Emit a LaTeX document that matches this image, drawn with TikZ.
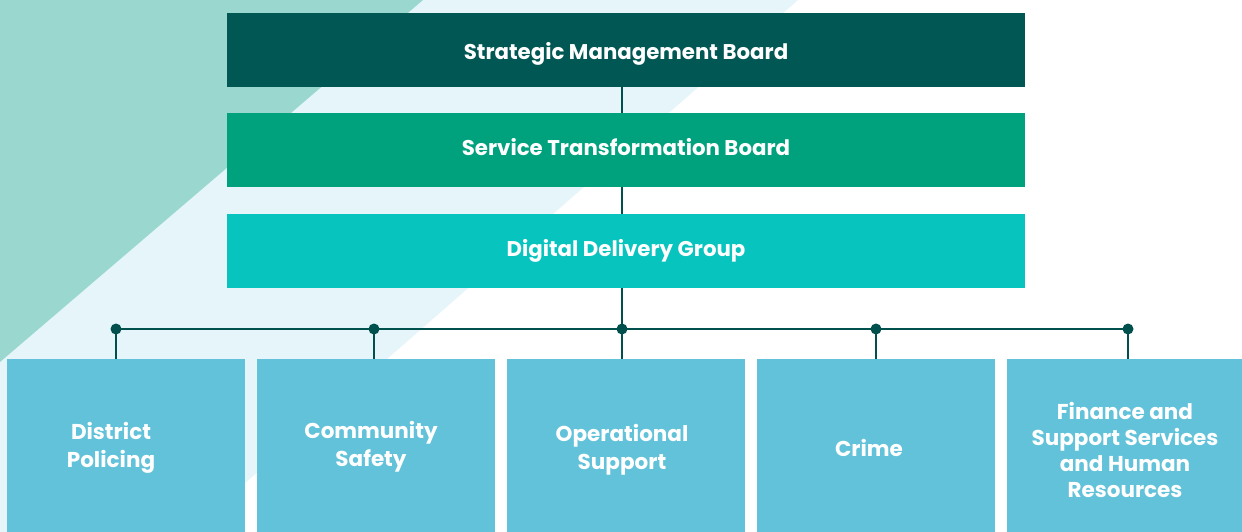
\documentclass[tikz,border=0pt]{standalone}
\usepackage{fontspec}
\setmainfont{Poppins}
\definecolor{cgreentri}{HTML}{9AD8CF}
\definecolor{clightblue}{HTML}{E6F5FA}
\definecolor{csmb}{HTML}{005753}
\definecolor{cstb}{HTML}{00A27E}
\definecolor{cddg}{HTML}{08C4BF}
\definecolor{cunit}{HTML}{61C2D9}
\definecolor{cline}{HTML}{00504D}
\tikzset{
  topbox/.style={rectangle, inner sep=0pt, minimum width=798pt, minimum height=74pt,
    text=white, text depth=0pt, font=\fontsize{21.3}{25}\selectfont\bfseries},
  unitbox/.style={rectangle, inner sep=0pt, minimum width=238pt, minimum height=173pt,
    fill=cunit, anchor=north west},
  unittext/.style={text=white, align=center, inner sep=0pt,
    font=\fontsize{21.5}{28}\selectfont\bfseries},
  conn/.style={draw=cline, line width=2pt},
  junction/.style={fill=cline}
}
\begin{document}
\begin{tikzpicture}[x=1pt,y=-1pt]
\useasboundingbox (0,0) rectangle (1242,532);
\clip (0,0) rectangle (1242,532);
% background
\fill[white] (0,0) rectangle (1242,532);
\fill[clightblue] (0,0) -- (798,0) -- (0,697) -- cycle;
\fill[cgreentri] (0,0) -- (423,0) -- (0,362) -- cycle;
% junction coordinates
\coordinate (d1) at (116,329);
\coordinate (d2) at (374,329);
\coordinate (d3) at (622,329);
\coordinate (d4) at (876,329);
\coordinate (d5) at (1128,329);
% top boxes
\node[topbox, fill=csmb, text height=20pt] (smb) at (626,50) {Strategic Management Board};
\node[topbox, fill=cstb, text height=12pt] (stb) at (626,150) {Service Transformation Board};
\node[topbox, fill=cddg, text height=10pt] (ddg) at (626,251) {Digital Delivery Group};
% unit boxes
\node[unitbox] (b1) at (7,359) {};
\node[unitbox] (b2) at (257,359) {};
\node[unitbox] (b3) at (507,359) {};
\node[unitbox] (b4) at (757,359) {};
\node[unitbox] (b5) at (1007,359) {};
% unit texts
\node[unittext] (t1) at (111,448) {District\\Policing};
\node[unittext] (t2) at (371,447) {Community\\Safety};
\node[unittext] (t3) at (622,450) {Operational\\Support};
\node[unittext] (t4) at (869,448) {Crime};
\node[unittext, font=\fontsize{21.5}{26}\selectfont\bfseries] (t5) at (1125,450) {Finance and\\Support Services\\and Human\\Resources};
% connectors
\draw[conn] (smb.south -| d3) -- (stb.north -| d3);
\draw[conn] (stb.south -| d3) -- (ddg.north -| d3);
\draw[conn] (ddg.south -| d3) -- (d3);
\draw[conn] (d1) -- (d5);
\draw[conn] (d1) -- (d1 |- b1.north);
\draw[conn] (d2) -- (d2 |- b2.north);
\draw[conn] (d3) -- (d3 |- b3.north);
\draw[conn] (d4) -- (d4 |- b4.north);
\draw[conn] (d5) -- (d5 |- b5.north);
\foreach \d in {d1,d2,d3,d4,d5} \fill[junction] (\d) circle (5.5);
\end{tikzpicture}
\end{document}
